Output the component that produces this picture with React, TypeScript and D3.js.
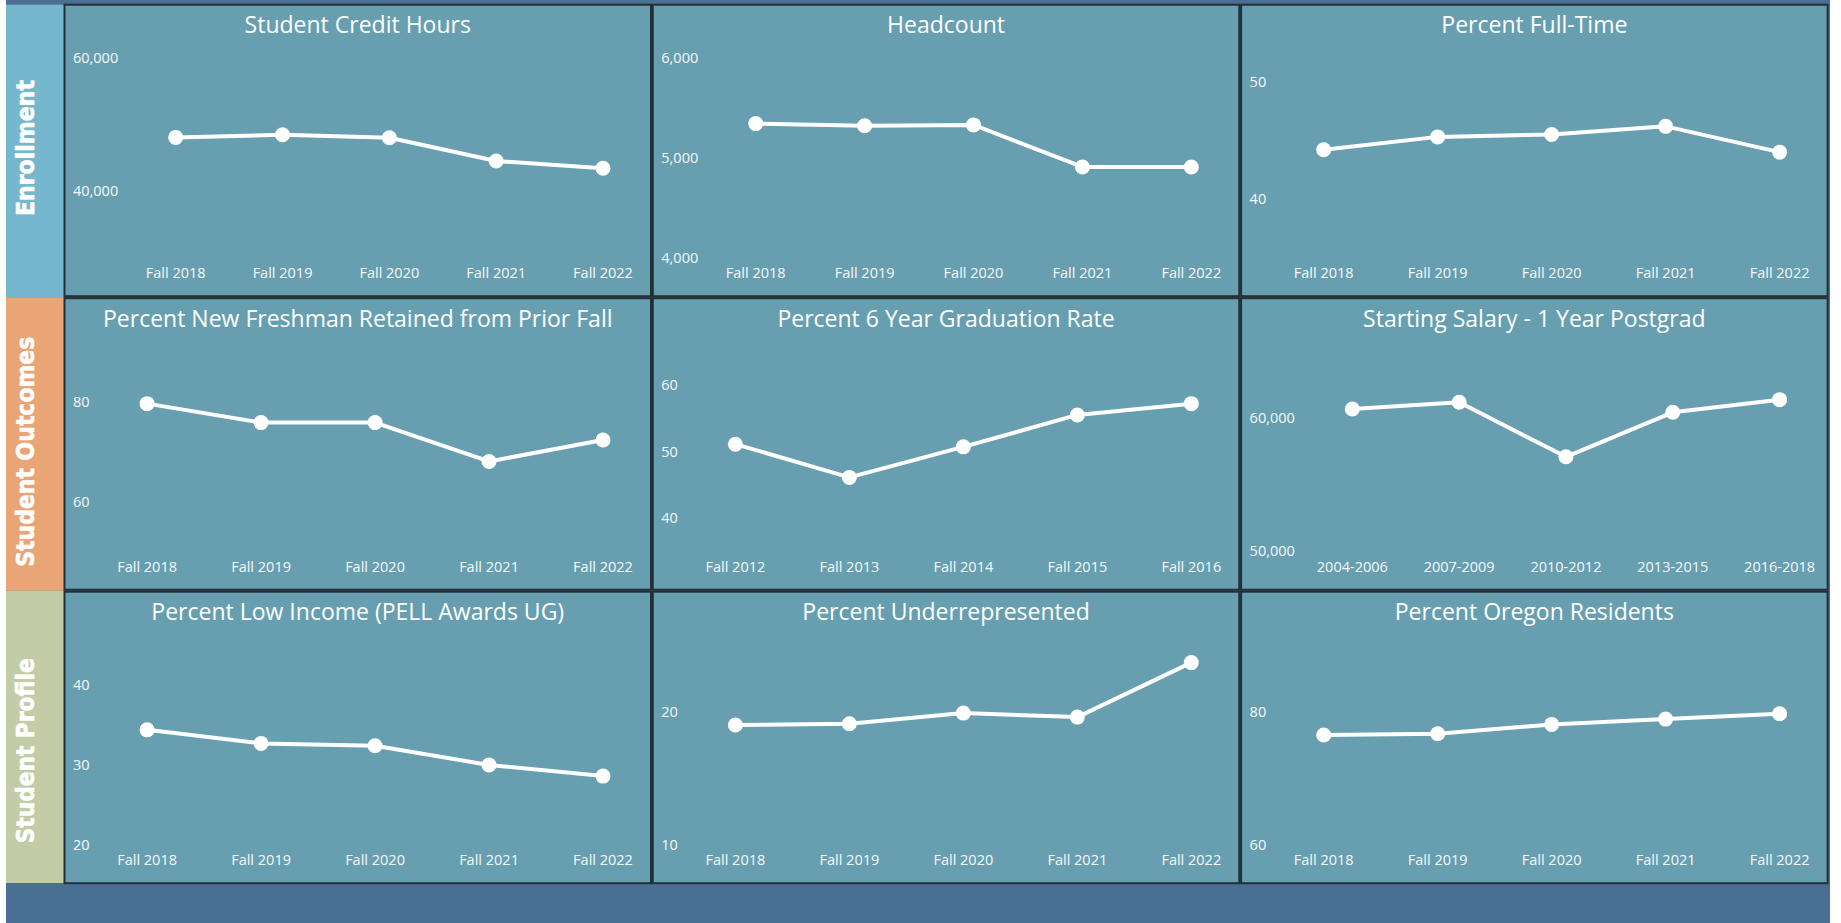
import React, { useEffect, useRef } from 'react';
import * as d3 from 'd3';

// categories
const FALL_TERMS = ['Fall 2018', 'Fall 2019', 'Fall 2020', 'Fall 2021', 'Fall 2022'];
const GRAD_COHORTS = ['Fall 2012', 'Fall 2013', 'Fall 2014', 'Fall 2015', 'Fall 2016'];
const SALARY_PERIODS = ['2004-2006', '2007-2009', '2010-2012', '2013-2015', '2016-2018'];
const SECTIONS = ['Enrollment', 'Student Outcomes', 'Student Profile'];

// series values
const creditHours = [48100, 48500, 48050, 44550, 43450];
const headcount = [5345, 5323, 5332, 4910, 4910];
const pctFullTime = [44.2, 45.3, 45.5, 46.2, 44.0];
const pctRetained = [79.6, 75.8, 75.8, 68.0, 72.3];
const pctGradRate = [51.1, 46.1, 50.7, 55.5, 57.2];
const startingSalary = [60700, 61200, 57100, 60450, 61400];
const pctLowIncome = [34.4, 32.7, 32.4, 30.0, 28.6];
const pctUnderrep = [19.0, 19.1, 19.9, 19.6, 23.7];
const pctOregon = [76.5, 76.7, 78.1, 78.9, 79.7];

// axis extents and tick labels
const creditHoursAxis = [30000, 60000];
const creditHoursTicks = [40000, 60000];
const headcountAxis = [4000, 6000];
const headcountTicks = [4000, 5000, 6000];
const fullTimeAxis = [35, 52];
const fullTimeTicks = [40, 50];
const retainedAxis = [50, 90];
const retainedTicks = [60, 80];
const gradAxis = [35, 65];
const gradTicks = [40, 50, 60];
const salaryAxis = [50000, 65000];
const salaryTicks = [50000, 60000];
const lowIncomeAxis = [20, 45];
const lowIncomeTicks = [20, 30, 40];
const underrepAxis = [10, 25];
const underrepTicks = [10, 20];
const oregonAxis = [60, 90];
const oregonTicks = [60, 80];

const PANELS = [
  { title: 'Student Credit Hours', cats: FALL_TERMS, values: creditHours, domain: creditHoursAxis, ticks: creditHoursTicks },
  { title: 'Headcount', cats: FALL_TERMS, values: headcount, domain: headcountAxis, ticks: headcountTicks },
  { title: 'Percent Full-Time', cats: FALL_TERMS, values: pctFullTime, domain: fullTimeAxis, ticks: fullTimeTicks },
  { title: 'Percent New Freshman Retained from Prior Fall', cats: FALL_TERMS, values: pctRetained, domain: retainedAxis, ticks: retainedTicks },
  { title: 'Percent 6 Year Graduation Rate', cats: GRAD_COHORTS, values: pctGradRate, domain: gradAxis, ticks: gradTicks },
  { title: 'Starting Salary - 1 Year Postgrad', cats: SALARY_PERIODS, values: startingSalary, domain: salaryAxis, ticks: salaryTicks },
  { title: 'Percent Low Income (PELL Awards UG)', cats: FALL_TERMS, values: pctLowIncome, domain: lowIncomeAxis, ticks: lowIncomeTicks },
  { title: 'Percent Underrepresented', cats: FALL_TERMS, values: pctUnderrep, domain: underrepAxis, ticks: underrepTicks },
  { title: 'Percent Oregon Residents', cats: FALL_TERMS, values: pctOregon, domain: oregonAxis, ticks: oregonTicks },
];

// layout
const W = 1841;
const H = 923;
const BAND = '#4a6f94';
const PANEL_BG = '#679fb0';
const BORDER = '#233036';
const STRIP_COLORS = ['#75b7cc', '#e9a576', '#c3cba7'];
const STRIP_LABEL_LEN = [136, 230, 185];
const STRIP_LABEL_CY = [148, 451.7, 750.8];
const GRID_LEFT = 64.5;
const COL_PITCH = 588.3;
const PANEL_W = 586.5;
const ROW_TOP = 4.7;
const ROW_PITCH = 293.5;
const PANEL_H = 291.5;
const PLOT_TOP = 53.6;
const PLOT_BOTTOM = 253;
const FONT = '"Open Sans", "Segoe UI", sans-serif';

export default function App() {
  const svgRef = useRef<SVGSVGElement>(null);

  useEffect(() => {
    const draw = () => {
      const svg = d3.select(svgRef.current);
      svg.selectAll('*').remove();

      svg.append('rect').attr('width', W).attr('height', H).attr('fill', '#ffffff');
      svg.append('rect').attr('x', 6).attr('y', 0).attr('width', 1824).attr('height', H).attr('fill', BAND);

      // section strips on the left
      SECTIONS.forEach((name, r) => {
        const top = ROW_TOP + r * ROW_PITCH - (r > 0 ? 1 : 0);
        const h = r === 2 ? 883 - top : ROW_TOP + (r + 1) * ROW_PITCH - 1 - top;
        svg.append('rect')
          .attr('x', 6).attr('y', top).attr('width', 58).attr('height', h)
          .attr('fill', STRIP_COLORS[r]);
        svg.append('text')
          .attr('transform', `translate(33.5,${STRIP_LABEL_CY[r]}) rotate(-90)`)
          .attr('text-anchor', 'middle')
          .attr('font-family', '"DejaVu Sans", sans-serif')
          .attr('font-weight', 'bold')
          .attr('font-size', 24)
          .attr('fill', '#ffffff')
          .attr('stroke', '#ffffff')
          .attr('stroke-width', 0.6)
          .attr('textLength', STRIP_LABEL_LEN[r])
          .attr('lengthAdjust', 'spacingAndGlyphs')
          .text(name);
      });

      const fmt = d3.format(',');

      PANELS.forEach((p, i) => {
        const r = Math.floor(i / 3);
        const c = i % 3;
        const x0 = GRID_LEFT + c * COL_PITCH;
        const y0 = ROW_TOP + r * ROW_PITCH;
        const g = svg.append('g').attr('transform', `translate(${x0},${y0})`);

        g.append('rect')
          .attr('x', 0).attr('y', 0).attr('width', PANEL_W).attr('height', PANEL_H)
          .attr('fill', PANEL_BG)
          .attr('stroke', BORDER)
          .attr('stroke-width', 2);

        g.append('text')
          .attr('x', PANEL_W / 2)
          .attr('y', 28.5)
          .attr('text-anchor', 'middle')
          .attr('font-family', FONT)
          .attr('font-size', 23)
          .attr('fill', '#ffffff')
          .text(p.title);

        const y = d3.scaleLinear().domain(p.domain).range([PLOT_BOTTOM, PLOT_TOP]);

        const yLabels = g.selectAll('text.ytick')
          .data(p.ticks)
          .join('text')
          .attr('class', 'ytick')
          .attr('x', 8.5)
          .attr('y', d => y(d) + 5.2)
          .attr('font-family', FONT)
          .attr('font-size', 14.5)
          .attr('fill', '#f6f8f9')
          .text(d => fmt(d));

        let maxW = 0;
        yLabels.each(function () {
          maxW = Math.max(maxW, (this as SVGTextElement).getComputedTextLength());
        });

        const x = d3.scalePoint<string>()
          .domain(p.cats)
          .range([8.5 + maxW + 57.5, PANEL_W - 48]);

        g.selectAll('text.xtick')
          .data(p.cats)
          .join('text')
          .attr('class', 'xtick')
          .attr('x', d => x(d)!)
          .attr('y', 273.5)
          .attr('text-anchor', 'middle')
          .attr('font-family', FONT)
          .attr('font-size', 14.5)
          .attr('fill', '#f6f8f9')
          .text(d => d);

        const pts = p.cats.map((cat, k) => ({ cat, v: p.values[k] }));
        const line = d3.line<{ cat: string; v: number }>()
          .x(d => x(d.cat)!)
          .y(d => y(d.v));

        g.append('path')
          .datum(pts)
          .attr('fill', 'none')
          .attr('stroke', '#ffffff')
          .attr('stroke-width', 4)
          .attr('stroke-linejoin', 'round')
          .attr('d', line);

        g.selectAll('circle.pt')
          .data(pts)
          .join('circle')
          .attr('class', 'pt')
          .attr('cx', d => x(d.cat)!)
          .attr('cy', d => y(d.v))
          .attr('r', 7.5)
          .attr('fill', '#ffffff');
      });
    };

    draw();
    if ((document as any).fonts?.ready) (document as any).fonts.ready.then(draw);
  }, []);

  return (
    <svg
      ref={svgRef}
      width={W}
      height={H}
      style={{ position: 'absolute', left: 0, top: 0, display: 'block' }}
    />
  );
}
